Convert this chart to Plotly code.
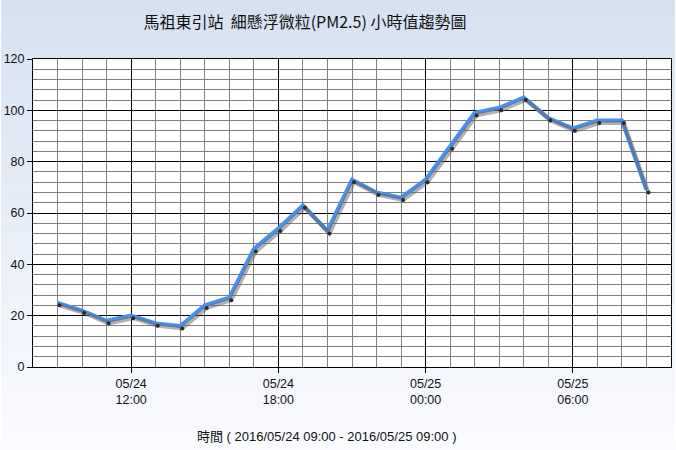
import plotly.graph_objects as go
import pandas as pd

# ---- data ----
times = pd.date_range("2016-05-24 09:00", "2016-05-25 09:00", freq="h")
pm25 = [25, 22, 18, 20, 17, 16, 24, 27, 46, 54, 63, 53, 73, 68, 66, 73,
        86, 99, 101, 105, 97, 93, 96, 96, 69]
y_ticks = [0, 20, 40, 60, 80, 100, 120]
x_tickvals = ["2016-05-24 12:00", "2016-05-24 18:00", "2016-05-25 00:00", "2016-05-25 06:00"]
x_ticktext = ["05/24<br>12:00", "05/24<br>18:00", "05/25<br>00:00", "05/25<br>06:00"]
title_text = "馬祖東引站  細懸浮微粒(PM2.5) 小時值趨勢圖"
xtitle_text = "時間 ( 2016/05/24 09:00 - 2016/05/25 09:00 )"

# ---- layout geometry ----
W, H = 676, 450
ml, mr, mt, mb = 32, 4, 59, 83
pw, ph = W - ml - mr, H - mt - mb
x0 = pd.Timestamp("2016-05-24 08:00")
x1 = pd.Timestamp("2016-05-25 10:00")
y0, y1 = 0, 120
ms_per_px = (x1 - x0).total_seconds() * 1000 / pw
val_per_px = (y1 - y0) / ph
sx, sy = 2.0, 2.5  # shadow offset in px
xs0 = x0 - pd.Timedelta(milliseconds=sx * ms_per_px)
xs1 = x1 - pd.Timedelta(milliseconds=sx * ms_per_px)

fig = go.Figure()
# shadow (with small dark vertex dots)
fig.add_trace(go.Scatter(x=times, y=pm25, mode="lines+markers",
                         line=dict(color="rgba(100,100,100,0.5)", width=4),
                         marker=dict(size=4, color="#2a2a2a"),
                         xaxis="x2", yaxis="y2", hoverinfo="skip", showlegend=False))
# main line
fig.add_trace(go.Scatter(x=times, y=pm25, mode="lines",
                         line=dict(color="#4A8FEA", width=4),
                         showlegend=False))

# gradient background stripes
shapes = []
n = 60
top_c = (214, 225, 242)
bot_c = (250, 251, 254)
fy0 = -mb / ph
fy1 = 1 + mt / ph
for i in range(n):
    t = i / (n - 1)
    c = tuple(int(round(top_c[k] + (bot_c[k] - top_c[k]) * t)) for k in range(3))
    ya = fy1 - (fy1 - fy0) * i / n
    yb = fy1 - (fy1 - fy0) * (i + 1) / n
    shapes.append(dict(type="rect", xref="paper", yref="paper",
                       x0=-ml / pw, x1=1 + mr / pw, y0=yb, y1=ya + 0.001,
                       line=dict(width=0), fillcolor="rgb(%d,%d,%d)" % c, layer="below"))
shapes.append(dict(type="rect", xref="paper", yref="paper", x0=0, x1=1, y0=0, y1=1,
                   line=dict(width=0), fillcolor="white", layer="below"))

font_latin = "Liberation Sans, Arial, Noto Sans CJK TC"
fig.update_layout(
    width=W, height=H,
    margin=dict(l=ml, r=mr, t=mt, b=mb),
    paper_bgcolor="white", plot_bgcolor="white",
    shapes=shapes,
    font=dict(family=font_latin, size=12, color="#111111"),
    title=dict(text=title_text, x=305 / W, xanchor="center", xref="container",
               y=1 - 22 / H, yanchor="middle",
               font=dict(family="Noto Sans CJK TC", size=16, color="#111111")),
    xaxis=dict(type="date", range=[x0, x1], tickvals=x_tickvals, ticktext=x_ticktext,
               showgrid=True, gridcolor="#000000", gridwidth=1,
               minor=dict(dtick=3600000, tick0="2016-05-24 00:00", showgrid=True,
                          gridcolor="#7f7f7f", gridwidth=1),
               ticks="outside", ticklen=5, tickcolor="#000000",
               showline=True, linecolor="#000000", linewidth=1, mirror=True,
               zeroline=False, tickfont=dict(size=12.5)),
    yaxis=dict(range=[y0, y1], tickvals=y_ticks,
               showgrid=True, gridcolor="#000000", gridwidth=1,
               minor=dict(dtick=4, showgrid=True, gridcolor="#7f7f7f", gridwidth=1),
               ticks="outside", ticklen=5, tickcolor="#000000",
               showline=True, linecolor="#000000", linewidth=1, mirror=True,
               zeroline=False, tickfont=dict(size=12.5)),
    xaxis2=dict(type="date", range=[xs0, xs1], overlaying="x", visible=False),
    yaxis2=dict(range=[y0 + sy * val_per_px, y1 + sy * val_per_px], overlaying="y",
                visible=False),
    annotations=[dict(text=xtitle_text, xref="paper", yref="paper",
                      x=(326 - ml) / pw, y=-(436 - mt - ph) / ph,
                      xanchor="center", yanchor="middle", showarrow=False,
                      font=dict(family=font_latin, size=13, color="#111111"))],
)
fig.write_html("out.html", config={"displayModeBar": False},
               post_script="document.body.style.margin='0';document.body.style.overflow='hidden';")
